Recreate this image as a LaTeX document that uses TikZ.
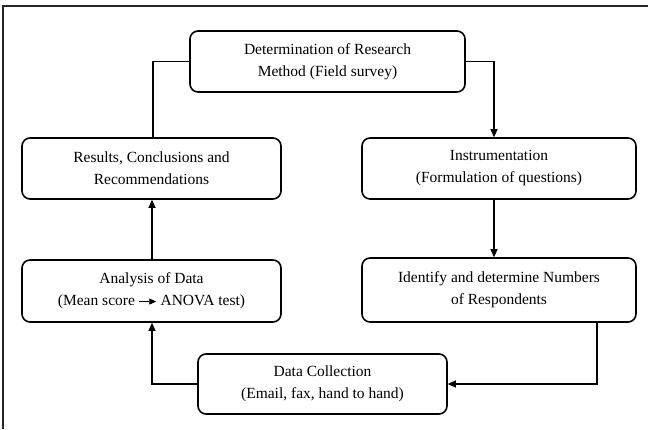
\documentclass[tikz,border=0pt]{standalone}
\usepackage{fontspec}
\setmainfont{Liberation Serif}
\usetikzlibrary{arrows.meta}
\begin{document}
\begin{tikzpicture}[x=1pt,y=-1pt,
  stage/.style={draw=black, line width=1.6pt, rounded corners=8pt, align=center,
    font=\fontsize{15.5}{22}\selectfont, inner sep=0pt},
  flow/.style={draw=black, line width=1.1pt},
  flowarrow/.style={flow, -{Triangle[length=8pt,width=7pt]}}]
\useasboundingbox (0,0) rectangle (648,429);
% open frame: top and left edges only
\draw[line width=1.2pt, black!85] (3,429) -- (3,6) -- (648,6);

% stages
\node[stage, minimum width=275pt, minimum height=61pt] (method) at (327.5,61.5)
  {Determination of Research\\Method (Field survey)};
\node[stage, minimum width=259pt, minimum height=61pt] (results) at (151.5,168.5)
  {Results, Conclusions and\\Recommendations};
\node[stage, minimum width=274pt, minimum height=61pt] (instr) at (499,168.5)
  {Instrumentation\\(Formulation of questions)};
\node[stage, minimum width=259pt, minimum height=62pt] (analysis) at (151.5,291)
  {Analysis of Data\\(Mean score \tikz[baseline=-0.6ex]\draw[line width=0.9pt,-{Triangle[length=7pt,width=6pt]}] (0,0) -- (17pt,0); ANOVA test)};
\node[stage, minimum width=274pt, minimum height=64pt] (ident) at (499,290)
  {Identify and determine Numbers\\of Respondents};
\node[stage, minimum width=249pt, minimum height=60pt] (collect) at (322.5,384)
  {Data Collection\\(Email, fax, hand to hand)};

% connectors
\draw[flow] (method.west) -| (results.north -| 153,0);
\draw[flowarrow] (method.east) -| (instr.north -| 494,0);
\draw[flowarrow] (instr.south -| 494,0) -- (ident.north -| 494,0);
\draw[flowarrow] (ident.south -| 597,0) |- (collect.east);
\draw[flowarrow] (collect.west) -| (analysis.south -| 152,0);
\draw[flowarrow] (analysis.north -| 152,0) -- (results.south -| 152,0);
\end{tikzpicture}
\end{document}
